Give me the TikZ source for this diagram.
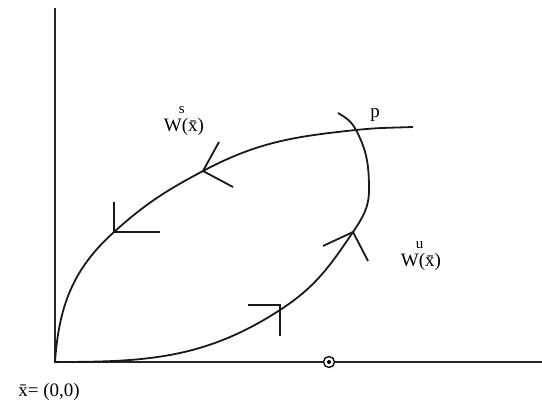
\documentclass[tikz,border=0pt]{standalone}
\usepackage{fontspec}
\setmainfont{Liberation Serif}
\usetikzlibrary{calc}
\tikzset{
  axis/.style={line width=1.9pt, draw=black!85},
  manif/.style={line width=1.8pt, draw=black!90},
  half/.style={line width=1.8pt, draw=black!90},
  lbl/.style={font=\fontsize{19}{21}\selectfont, inner sep=0pt},
  fixpt/.style={draw, circle, fill=white, line width=1.3pt, minimum size=11pt, inner sep=0pt},
}
\newcommand{\wsup}[1]{W\rlap{\kern-3pt\raisebox{0.95em}{\fontsize{15}{15}\selectfont #1}}(\=x)}

\begin{document}
\begin{tikzpicture}[x=1pt,y=1pt]
  \useasboundingbox (0,0) rectangle (542,402);
  % axes
  \coordinate (O) at (55,40);
  \coordinate (ytop) at (55,394);
  \coordinate (xend) at (542,40);
  \draw[axis] (ytop) -- (O) -- (xend);
  \node[fixpt] (q) at (329,40) {};
  \fill (q.center) circle (2pt);

  % stable manifold
  \coordinate (s1) at (114,170);
  \coordinate (s2) at (203,231);
  \coordinate (p) at (356,272);
  \coordinate (send) at (413,275);
  \draw[manif] (O) to[out=86,in=-138] (s1) to[out=42,in=-152] (s2)
    to[out=28,in=-174] (p) to[out=6,in=-178] (send);

  % unstable manifold
  \coordinate (u1) at (280,92);
  \coordinate (u2) at (353,170);
  \coordinate (ur) at (369,212);
  \coordinate (uend) at (338,289);
  \draw[manif] (O) to[out=0,in=-147] (u1) to[out=33,in=-124] (u2)
    to[out=56,in=-90] (ur) to[out=90,in=-62] (p) to[out=118,in=-30] (uend);

  % half arrows
  \draw[half] (114,200) -- (s1) -- (160,170);
  \draw[half] (219,260) -- (s2) -- (233,215);
  \coordinate (c1) at (280,97);
  \draw[half] (248,97) -- (c1) -- (280,66);
  \draw[half] (323,156) -- (u2) -- (368,141);

  % labels
  \node[lbl, anchor=base] (ws) at (184,270) {\wsup{s}};
  \node[lbl, anchor=base] (wu) at (421,135) {\wsup{u}};
  \node[lbl] (plbl) at (375,287) {p};
  \node[lbl] (orig) at (49,10) {\=x= (0,0)};
\end{tikzpicture}
\end{document}
